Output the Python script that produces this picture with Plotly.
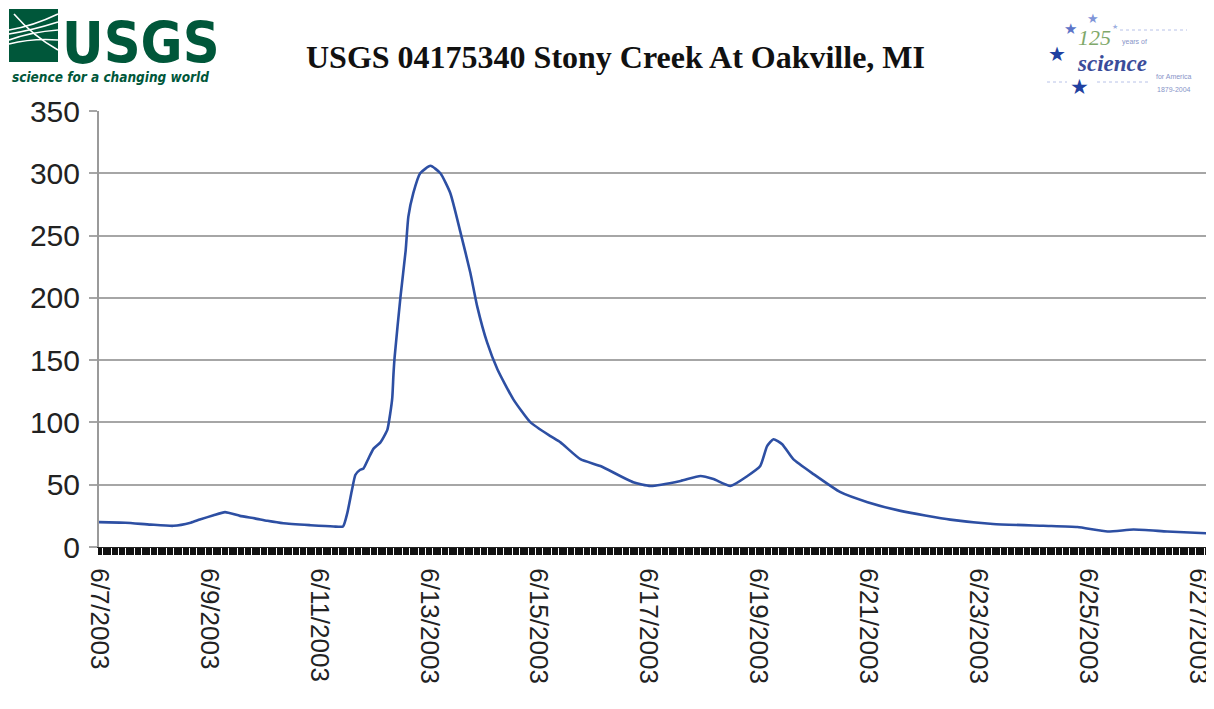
import plotly.graph_objects as go

# ---- data (discharge, cfs) ----
times = [
    "2003-06-07 00:00", "2003-06-07 11:30", "2003-06-07 22:30", "2003-06-08 08:30",
    "2003-06-08 16:00", "2003-06-08 20:00", "2003-06-09 02:00", "2003-06-09 07:00",
    "2003-06-09 13:30", "2003-06-09 20:00", "2003-06-10 01:30", "2003-06-10 08:30",
    "2003-06-10 20:20", "2003-06-11 06:20", "2003-06-11 10:30", "2003-06-11 12:20",
    "2003-06-11 14:25", "2003-06-11 15:55", "2003-06-11 18:00", "2003-06-11 19:25",
    "2003-06-11 21:35", "2003-06-11 23:50", "2003-06-12 02:50", "2003-06-12 05:50",
    "2003-06-12 07:05", "2003-06-12 08:00", "2003-06-12 08:30", "2003-06-12 09:00",
    "2003-06-12 11:35", "2003-06-12 13:50", "2003-06-12 15:00", "2003-06-12 17:10",
    "2003-06-12 20:10", "2003-06-13 00:40", "2003-06-13 05:00", "2003-06-13 09:20",
    "2003-06-13 13:50", "2003-06-13 18:05", "2003-06-13 21:05", "2003-06-14 01:25",
    "2003-06-14 05:55", "2003-06-14 12:50", "2003-06-14 20:20", "2003-06-15 05:00",
    "2003-06-15 09:25", "2003-06-15 18:05", "2003-06-16 02:50", "2003-06-16 17:10",
    "2003-06-17 00:40", "2003-06-17 13:50", "2003-06-17 22:30", "2003-06-18 04:10",
    "2003-06-18 11:35", "2003-06-18 19:00", "2003-06-19 00:35", "2003-06-19 03:35",
    "2003-06-19 06:20", "2003-06-19 10:10", "2003-06-19 15:00", "2003-06-19 23:50",
    "2003-06-20 11:35", "2003-06-20 23:25", "2003-06-21 13:50", "2003-06-22 11:30",
    "2003-06-23 06:10", "2003-06-24 04:05", "2003-06-24 19:00", "2003-06-25 08:10",
    "2003-06-25 19:30", "2003-06-26 10:10", "2003-06-27 03:50",
]
flow = [
    20, 19.5, 18, 17,
    19.5, 22, 25.5, 28,
    25, 23, 21, 19,
    17.5, 16.5, 16.5, 27,
    46, 58, 62, 63,
    71, 79, 84, 94,
    107, 120, 138, 152,
    201, 238, 265, 284,
    300, 306, 300, 284,
    252, 220, 193, 164,
    142.5, 118.5, 100, 89,
    84, 70.5, 65, 52,
    49, 53, 57, 54.5,
    49, 57, 65, 81,
    86.5, 82.5, 70.5, 58.5,
    44, 36, 29, 22,
    18.5, 17, 16, 12.5,
    14, 12.5, 11,
]

title_text = "USGS 04175340 Stony Creek At Oakville, MI"
y_ticks = [0, 50, 100, 150, 200, 250, 300, 350]

# ---- figure geometry (pixels); the page body adds an 8px margin ----
OFF = 8
W, H = 1214 - OFF, 709 - OFF
L, R, T, B = 91, 6, 103, 162
PW, PH = W - L - R, H - T - B


def px(x):
    """page x pixel -> paper coordinate"""
    return (x - OFF - L) / PW


def py(y):
    """page y pixel -> paper coordinate"""
    return (H - B - (y - OFF)) / PH


def path(points):
    s = "M {:.5f},{:.5f}".format(px(points[0][0]), py(points[0][1]))
    pts = points[1:]
    for i in range(0, len(pts), 2):
        (cx, cy), (ex, ey) = pts[i], pts[i + 1]
        s += " Q {:.5f},{:.5f} {:.5f},{:.5f}".format(px(cx), py(cy), px(ex), py(ey))
    return s


fig = go.Figure()
fig.add_trace(go.Scatter(
    x=times, y=flow, mode="lines",
    line=dict(color="#2D4FA3", width=2.6, shape="spline", smoothing=0.5),
    hoverinfo="skip", showlegend=False,
))

green = "#00573A"
blue = "#2140A0"
shapes = []
# USGS icon square
shapes.append(dict(type="rect", xref="paper", yref="paper",
                   x0=px(9), x1=px(58), y0=py(62), y1=py(9),
                   fillcolor=green, line=dict(width=0), layer="above"))
for pts in [
    [(9, 30), (33, 26), (58, 14)],
    [(9, 34), (33, 30), (58, 22)],
    [(9, 40), (31, 32), (58, 30)],
    [(9, 44), (33, 38), (58, 40)],
    [(14, 14), (33, 36), (58, 50)],
]:
    shapes.append(dict(type="path", xref="paper", yref="paper", path=path(pts),
                       line=dict(color="white", width=1.6), layer="above"))
# faint lines in the 125 logo
for x0, x1, yy in [(1120, 1187, 30), (1047, 1067, 82), (1097, 1150, 82)]:
    shapes.append(dict(type="line", xref="paper", yref="paper",
                       x0=px(x0), x1=px(x1), y0=py(yy), y1=py(yy),
                       line=dict(color="#B8C2E8", width=1, dash="dot"), layer="above"))
# right border of plot area
shapes.append(dict(type="line", xref="paper", yref="paper", x0=1, x1=1, y0=0, y1=1,
                   line=dict(color="#9A9A9A", width=2)))

annotations = [
    dict(text="<b>" + title_text + "</b>", x=px(615), y=py(57), xref="paper", yref="paper",
         showarrow=False, xanchor="center", yanchor="middle",
         font=dict(family="Liberation Serif, Times New Roman, serif", size=32, color="#111111")),
    dict(text="<b>USGS</b>", x=px(61), y=py(8.5), xref="paper", yref="paper",
         showarrow=False, xanchor="left", yanchor="top", borderpad=0,
         font=dict(family="DejaVu Sans Condensed, Arial Narrow, sans-serif",
                   size=57, color=green)),
    dict(text="<b><i>science for a changing world</i></b>", x=px(10), y=py(77), xref="paper", yref="paper",
         showarrow=False, xanchor="left", yanchor="middle",
         font=dict(family="DejaVu Sans Condensed, Arial Narrow, sans-serif",
                   size=13.5, color=green)),
    dict(text="<i>125</i>", x=px(1094), y=py(37), xref="paper", yref="paper",
         showarrow=False, xanchor="center", yanchor="middle",
         font=dict(family="Liberation Serif, serif", size=22, color="#7FA86A")),
    dict(text="years of", x=px(1134), y=py(42), xref="paper", yref="paper",
         showarrow=False, xanchor="center", yanchor="middle",
         font=dict(family="Liberation Sans, sans-serif", size=7, color="#8894C8")),
    dict(text="<b><i>science</i></b>", x=px(1112), y=py(64), xref="paper", yref="paper",
         showarrow=False, xanchor="center", yanchor="middle",
         font=dict(family="Liberation Serif, serif", size=23, color="#3A4C9A")),
    dict(text="for America", x=px(1174), y=py(76), xref="paper", yref="paper",
         showarrow=False, xanchor="center", yanchor="middle",
         font=dict(family="Liberation Sans, sans-serif", size=7, color="#8894C8")),
    dict(text="1879-2004", x=px(1174), y=py(90), xref="paper", yref="paper",
         showarrow=False, xanchor="center", yanchor="middle",
         font=dict(family="Liberation Sans, sans-serif", size=7, color="#8894C8")),
]
for sx, sy, ss, sc in [(1093, 18, 13, "#7F95D8"), (1070, 29, 15, "#5C74C8"),
                       (1057, 54, 20, blue), (1079, 87, 21, blue), (1115, 27, 7, "#9FB0E0")]:
    annotations.append(dict(text="★", x=px(sx), y=py(sy), xref="paper", yref="paper",
                            showarrow=False, xanchor="center", yanchor="middle",
                            font=dict(family="DejaVu Sans, sans-serif", size=ss, color=sc)))

fig.update_layout(
    width=W, height=H, autosize=False,
    margin=dict(l=L, r=R, t=T, b=B, pad=0),
    paper_bgcolor="white", plot_bgcolor="white",
    shapes=shapes, annotations=annotations,
    xaxis=dict(
        type="date", automargin=False,
        range=["2003-06-07 00:00", "2003-06-27 04:00"],
        tick0="2003-06-07", dtick=2 * 86400000,
        tickformat="%-m/%-d/%Y", tickangle=90,
        ticks="outside", ticklen=7, tickwidth=2, tickcolor="#111111",
        minor=dict(ticks="outside", dtick=3600000, ticklen=7, tickwidth=1.8,
                   tickcolor="#111111", showgrid=False),
        showgrid=False, showline=True, linecolor="#222222", linewidth=1,
        ticklabelstandoff=8, ticklabeloverflow="allow",
        tickfont=dict(family="Liberation Sans, Arial, sans-serif", size=26, color="#222222"),
        fixedrange=True,
    ),
    yaxis=dict(
        range=[0, 350], tickvals=y_ticks, automargin=False,
        showgrid=True, gridcolor="#A6A6A6", gridwidth=2,
        ticks="outside", ticklen=8, tickwidth=2, tickcolor="#A6A6A6",
        showline=True, linecolor="#9A9A9A", linewidth=2,
        zeroline=False, ticklabelstandoff=3,
        tickfont=dict(family="Liberation Sans, Arial, sans-serif", size=30, color="#222222"),
        fixedrange=True,
    ),
)

fig.write_html("out.html")
